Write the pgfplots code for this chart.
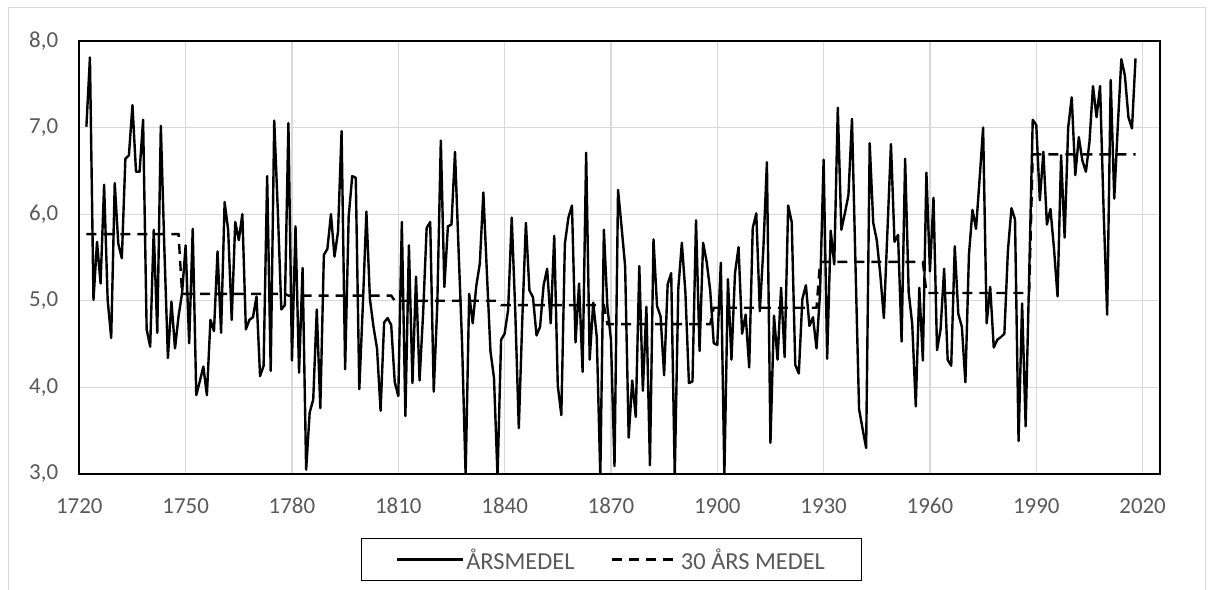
\documentclass[border=0pt]{standalone}
\usepackage{fontspec}
\setmainfont{Carlito}
\usepackage{pgfplots}
\usepackage{pgfplotstable}
\pgfplotsset{compat=1.18}

\definecolor{gridgray}{HTML}{D9D9D9}
\definecolor{labelgray}{HTML}{595959}

% year, annual mean, 30-year mean
\pgfplotstableread{
year temp mean
1722 7.01 5.77
1723 7.81 5.77
1724 5.01 5.77
1725 5.68 5.77
1726 5.20 5.77
1727 6.34 5.77
1728 5.01 5.77
1729 4.57 5.77
1730 6.36 5.77
1731 5.66 5.77
1732 5.49 5.77
1733 6.64 5.77
1734 6.68 5.77
1735 7.26 5.77
1736 6.49 5.77
1737 6.49 5.77
1738 7.09 5.77
1739 4.67 5.77
1740 4.47 5.77
1741 5.82 5.77
1742 4.63 5.77
1743 7.02 5.77
1744 5.60 5.77
1745 4.34 5.77
1746 4.99 5.77
1747 4.45 5.77
1748 4.82 5.77
1749 5.09 5.08
1750 5.64 5.08
1751 4.51 5.08
1752 5.83 5.08
1753 3.91 5.08
1754 4.07 5.08
1755 4.24 5.08
1756 3.91 5.08
1757 4.78 5.08
1758 4.65 5.08
1759 5.57 5.08
1760 4.63 5.08
1761 6.14 5.08
1762 5.82 5.08
1763 4.78 5.08
1764 5.91 5.08
1765 5.70 5.08
1766 6.00 5.08
1767 4.67 5.08
1768 4.78 5.08
1769 4.81 5.08
1770 5.05 5.08
1771 4.13 5.08
1772 4.25 5.08
1773 6.44 5.08
1774 4.19 5.08
1775 7.08 5.08
1776 6.05 5.08
1777 4.90 5.08
1778 4.95 5.08
1779 7.05 5.06
1780 4.31 5.06
1781 5.86 5.06
1782 4.17 5.06
1783 5.38 5.06
1784 3.05 5.06
1785 3.71 5.06
1786 3.86 5.06
1787 4.90 5.06
1788 3.76 5.06
1789 5.53 5.06
1790 5.60 5.06
1791 6.00 5.06
1792 5.51 5.06
1793 5.80 5.06
1794 6.96 5.06
1795 4.21 5.06
1796 5.97 5.06
1797 6.44 5.06
1798 6.42 5.06
1799 3.98 5.06
1800 4.95 5.06
1801 6.03 5.06
1802 5.02 5.06
1803 4.70 5.06
1804 4.45 5.06
1805 3.73 5.06
1806 4.75 5.06
1807 4.80 5.06
1808 4.72 5.06
1809 4.06 5.00
1810 3.90 5.00
1811 5.91 5.00
1812 3.67 5.00
1813 5.64 5.00
1814 4.05 5.00
1815 5.28 5.00
1816 4.08 5.00
1817 4.85 5.00
1818 5.84 5.00
1819 5.91 5.00
1820 3.95 5.00
1821 4.95 5.00
1822 6.85 5.00
1823 5.16 5.00
1824 5.86 5.00
1825 5.88 5.00
1826 6.72 5.00
1827 5.60 5.00
1828 4.50 5.00
1829 2.98 5.00
1830 5.08 5.00
1831 4.74 5.00
1832 5.17 5.00
1833 5.43 5.00
1834 6.25 5.00
1835 5.32 5.00
1836 4.42 5.00
1837 4.11 5.00
1838 2.97 5.00
1839 4.55 4.95
1840 4.62 4.95
1841 4.90 4.95
1842 5.96 4.95
1843 4.88 4.95
1844 3.53 4.95
1845 4.80 4.95
1846 5.90 4.95
1847 5.12 4.95
1848 5.04 4.95
1849 4.60 4.95
1850 4.70 4.95
1851 5.18 4.95
1852 5.37 4.95
1853 4.74 4.95
1854 5.75 4.95
1855 4.02 4.95
1856 3.68 4.95
1857 5.66 4.95
1858 5.96 4.95
1859 6.10 4.95
1860 4.52 4.95
1861 5.20 4.95
1862 4.18 4.95
1863 6.71 4.95
1864 4.32 4.95
1865 4.98 4.95
1866 4.58 4.95
1867 2.97 4.95
1868 5.82 4.95
1869 4.93 4.73
1870 4.55 4.73
1871 3.09 4.73
1872 6.28 4.73
1873 5.85 4.73
1874 5.40 4.73
1875 3.42 4.73
1876 4.08 4.73
1877 3.66 4.73
1878 5.40 4.73
1879 3.96 4.73
1880 4.93 4.73
1881 3.10 4.73
1882 5.71 4.73
1883 4.94 4.73
1884 4.82 4.73
1885 4.14 4.73
1886 5.19 4.73
1887 5.32 4.73
1888 2.97 4.73
1889 5.14 4.73
1890 5.67 4.73
1891 5.10 4.73
1892 4.05 4.73
1893 4.07 4.73
1894 5.93 4.73
1895 4.42 4.73
1896 5.67 4.73
1897 5.45 4.73
1898 5.12 4.73
1899 4.51 4.92
1900 4.49 4.92
1901 5.44 4.92
1902 2.98 4.92
1903 5.25 4.92
1904 4.32 4.92
1905 5.32 4.92
1906 5.62 4.92
1907 4.62 4.92
1908 4.84 4.92
1909 4.23 4.92
1910 5.84 4.92
1911 6.01 4.92
1912 4.88 4.92
1913 5.60 4.92
1914 6.60 4.92
1915 3.36 4.92
1916 4.83 4.92
1917 4.32 4.92
1918 5.15 4.92
1919 4.35 4.92
1920 6.10 4.92
1921 5.91 4.92
1922 4.26 4.92
1923 4.16 4.92
1924 5.02 4.92
1925 5.18 4.92
1926 4.71 4.92
1927 4.81 4.92
1928 4.45 4.92
1929 5.10 5.45
1930 6.63 5.45
1931 4.33 5.45
1932 5.81 5.45
1933 5.42 5.45
1934 7.23 5.45
1935 5.82 5.45
1936 6.01 5.45
1937 6.22 5.45
1938 7.10 5.45
1939 5.40 5.45
1940 3.75 5.45
1941 3.52 5.45
1942 3.30 5.45
1943 6.82 5.45
1944 5.90 5.45
1945 5.70 5.45
1946 5.30 5.45
1947 4.80 5.45
1948 5.80 5.45
1949 6.81 5.45
1950 5.68 5.45
1951 5.76 5.45
1952 4.53 5.45
1953 6.64 5.45
1954 5.10 5.45
1955 4.73 5.45
1956 3.78 5.45
1957 5.15 5.45
1958 4.31 5.45
1959 6.48 5.09
1960 5.34 5.09
1961 6.19 5.09
1962 4.43 5.09
1963 4.67 5.09
1964 5.37 5.09
1965 4.32 5.09
1966 4.25 5.09
1967 5.63 5.09
1968 4.85 5.09
1969 4.70 5.09
1970 4.06 5.09
1971 5.53 5.09
1972 6.05 5.09
1973 5.83 5.09
1974 6.40 5.09
1975 7.00 5.09
1976 4.74 5.09
1977 5.16 5.09
1978 4.46 5.09
1979 4.55 5.09
1980 4.58 5.09
1981 4.62 5.09
1982 5.58 5.09
1983 6.07 5.09
1984 5.94 5.09
1985 3.38 5.09
1986 4.97 5.09
1987 3.55 5.09
1988 5.30 5.09
1989 7.09 6.69
1990 7.03 6.69
1991 6.16 6.69
1992 6.72 6.69
1993 5.88 6.69
1994 6.06 6.69
1995 5.60 6.69
1996 5.05 6.69
1997 6.68 6.69
1998 5.73 6.69
1999 7.00 6.69
2000 7.35 6.69
2001 6.45 6.69
2002 6.89 6.69
2003 6.62 6.69
2004 6.49 6.69
2005 6.83 6.69
2006 7.48 6.69
2007 7.12 6.69
2008 7.48 6.69
2009 6.04 6.69
2010 4.84 6.69
2011 7.55 6.69
2012 6.18 6.69
2013 7.02 6.69
2014 7.79 6.69
2015 7.60 6.69
2016 7.12 6.69
2017 6.99 6.69
2018 7.80 6.69
}\data

\begin{document}
\begin{tikzpicture}[x=1bp,y=1bp]
\path[use as bounding box] (0,0) rectangle (1214,590);
\draw[gridgray, line width=1bp] (8,0) -- (8,582) -- (1205,582) -- (1205,0);
\begin{axis}[
  at={(79.3bp,116bp)}, anchor=south west,
  scale only axis, width=1081bp, height=433bp,
  xmin=1720, xmax=2025, ymin=3, ymax=8,
  xtick={1720,1750,...,2020}, ytick={3,4,...,8},
  grid=major,
  major grid style={gridgray, line width=1.2bp},
  axis line style={black, line width=1.8bp},
  major tick length=0pt,
  /pgf/number format/assume math mode=true,
  tick label style={font=\fontsize{23}{23}\selectfont, text=labelgray},
  xticklabel style={/pgf/number format/1000 sep={}, inner sep=0pt, anchor=north, yshift=-24bp},
  yticklabel style={/pgf/number format/fixed, /pgf/number format/fixed zerofill,
    /pgf/number format/precision=1, /pgf/number format/use comma,
    inner sep=0pt, anchor=east, xshift=-21bp},
  legend columns=2,
  legend image code/.code={\draw[#1] (0bp,0bp) -- (66bp,0bp);},
  legend style={at={(0.4923,-0.1975)}, anchor=center,
    draw=black, line width=1bp,
    font=\fontsize{24.5}{24.5}\selectfont, text=labelgray,
    inner xsep=34bp, inner ysep=8bp,
    nodes={inner sep=2bp},
    /tikz/every even column/.append style={column sep=34bp}},
]
\addplot[black, line width=2.4bp, line join=round] table[x=year, y=temp] {\data};
\addlegendentry{ÅRSMEDEL}
\addplot[black, line width=2.4bp, dash pattern=on 10bp off 7bp] table[x=year, y=mean] {\data};
\addlegendentry{30 ÅRS MEDEL}
\end{axis}
\end{tikzpicture}
\end{document}
